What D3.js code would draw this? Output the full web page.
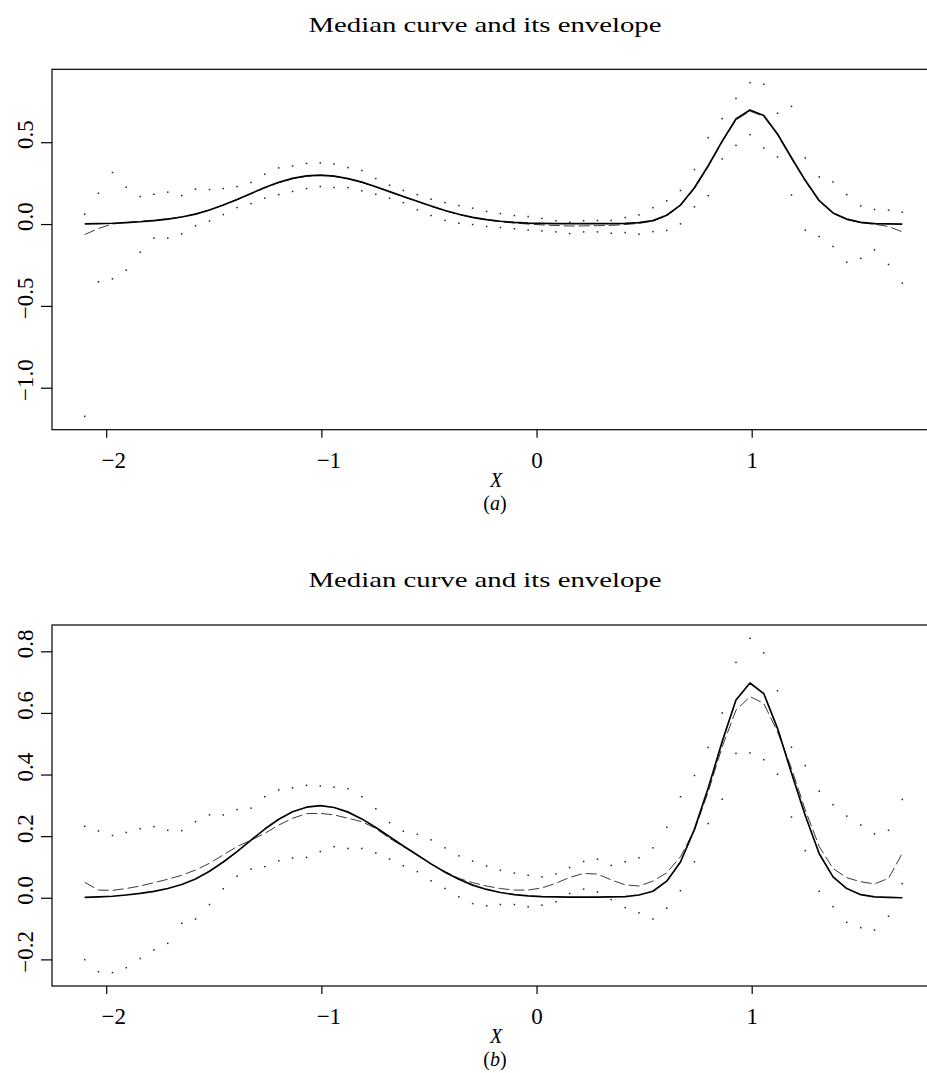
<!DOCTYPE html>
<html>
<head>
<meta charset="utf-8">
<script src="https://cdn.jsdelivr.net/npm/d3@7"></script>
<style>
  html, body { margin: 0; padding: 0; background: #fff; }
  svg { display: block; }
  text { font-family: "Liberation Serif", "Times New Roman", serif; fill: #000; }
</style>
</head>
<body>
<svg id="chart" width="927" height="1073"></svg>
<script>
// ── Data ──────────────────────────────────────────────────────────────────────

const xs = [
  -2.100, -2.036, -1.971, -1.907, -1.842, -1.778, -1.714, -1.649, -1.585, -1.520,
  -1.456, -1.392, -1.327, -1.263, -1.198, -1.134, -1.069, -1.005, -0.941, -0.876,
  -0.812, -0.747, -0.683, -0.619, -0.554, -0.490, -0.425, -0.361, -0.297, -0.232,
  -0.168, -0.103, -0.039,  0.025,  0.090,  0.154,  0.219,  0.283,  0.347,  0.412,
   0.476,  0.541,  0.605,  0.669,  0.734,  0.798,  0.863,  0.927,  0.992,  1.056,
   1.120,  1.185,  1.249,  1.314,  1.378,  1.442,  1.507,  1.571,  1.636,  1.700
];

// solid curve (same in both panels)
const trueCurve = [
  0.001, 0.003, 0.005, 0.009, 0.014, 0.021, 0.030, 0.043, 0.061, 0.086,
  0.116, 0.150, 0.187, 0.223, 0.255, 0.279, 0.294, 0.299, 0.293, 0.278,
  0.256, 0.228, 0.198, 0.168, 0.139, 0.110, 0.083, 0.060, 0.041, 0.027,
  0.017, 0.010, 0.006, 0.004, 0.003, 0.002, 0.002, 0.002, 0.003, 0.004,
  0.009, 0.021, 0.054, 0.116, 0.222, 0.356, 0.507, 0.642, 0.697, 0.663,
  0.550, 0.405, 0.267, 0.143, 0.068, 0.030, 0.010, 0.003, 0.001, 0.000
];

// panel (a)
const medianA = [
  -0.064, -0.027, 0.000, 0.010, 0.017, 0.024, 0.032, 0.044, 0.062, 0.086,
  0.115, 0.148, 0.185, 0.221, 0.253, 0.277, 0.292, 0.297, 0.292, 0.277,
  0.255, 0.227, 0.197, 0.166, 0.137, 0.108, 0.081, 0.058, 0.039, 0.025,
  0.014, 0.006, 0.000, -0.005, -0.009, -0.012, -0.011, -0.010, -0.008, -0.003,
  0.004, 0.018, 0.052, 0.113, 0.218, 0.352, 0.503, 0.637, 0.690, 0.658,
  0.546, 0.401, 0.263, 0.140, 0.066, 0.028, 0.008, -0.001, -0.015, -0.048
];
const upperA = [
  0.060, 0.188, 0.315, 0.225, 0.168, 0.182, 0.195, 0.174, 0.213, 0.211,
  0.217, 0.229, 0.254, 0.304, 0.343, 0.355, 0.370, 0.374, 0.367, 0.345,
  0.327, 0.278, 0.237, 0.205, 0.180, 0.152, 0.131, 0.113, 0.097, 0.077,
  0.064, 0.052, 0.046, 0.034, 0.020, 0.011, 0.020, 0.022, 0.022, 0.040,
  0.056, 0.100, 0.142, 0.205, 0.333, 0.528, 0.644, 0.768, 0.864, 0.854,
  0.677, 0.719, 0.404, 0.288, 0.257, 0.180, 0.111, 0.089, 0.085, 0.072
];
const lowerA = [
  -1.175, -0.353, -0.335, -0.282, -0.172, -0.086, -0.086, -0.060, -0.011, 0.018,
  0.058, 0.101, 0.125, 0.158, 0.180, 0.199, 0.217, 0.229, 0.223, 0.223,
  0.203, 0.182, 0.158, 0.131, 0.087, 0.052, 0.022, 0.005, -0.003, -0.015,
  -0.021, -0.029, -0.037, -0.042, -0.048, -0.058, -0.048, -0.048, -0.056, -0.052,
  -0.062, -0.046, -0.039, 0.001, 0.105, 0.174, 0.398, 0.481, 0.546, 0.465,
  0.410, 0.178, -0.037, -0.076, -0.137, -0.233, -0.210, -0.158, -0.247, -0.361
];

// panel (b)
const medianB = [
  0.050, 0.025, 0.024, 0.030, 0.038, 0.049, 0.060, 0.073, 0.090, 0.112,
  0.139, 0.166, 0.187, 0.209, 0.236, 0.258, 0.273, 0.274, 0.269, 0.258,
  0.247, 0.225, 0.193, 0.166, 0.139, 0.109, 0.085, 0.063, 0.049, 0.038,
  0.030, 0.025, 0.025, 0.032, 0.047, 0.066, 0.079, 0.077, 0.058, 0.042,
  0.038, 0.054, 0.081, 0.133, 0.220, 0.344, 0.490, 0.609, 0.653, 0.631,
  0.539, 0.420, 0.285, 0.166, 0.095, 0.065, 0.052, 0.045, 0.063, 0.144
];
const upperB = [
  0.232, 0.217, 0.202, 0.212, 0.224, 0.231, 0.219, 0.218, 0.247, 0.269,
  0.269, 0.286, 0.291, 0.328, 0.350, 0.357, 0.365, 0.363, 0.359, 0.354,
  0.328, 0.289, 0.244, 0.216, 0.206, 0.188, 0.162, 0.136, 0.119, 0.103,
  0.089, 0.080, 0.073, 0.068, 0.077, 0.098, 0.118, 0.125, 0.105, 0.117,
  0.130, 0.162, 0.229, 0.328, 0.397, 0.488, 0.600, 0.764, 0.842, 0.795,
  0.672, 0.489, 0.429, 0.346, 0.302, 0.265, 0.236, 0.207, 0.219, 0.319
];
const lowerB = [
  -0.201, -0.240, -0.243, -0.227, -0.197, -0.169, -0.148, -0.083, -0.069, -0.022,
  0.029, 0.070, 0.093, 0.101, 0.120, 0.129, 0.131, 0.150, 0.166, 0.160,
  0.160, 0.145, 0.126, 0.104, 0.085, 0.055, 0.030, 0.003, -0.019, -0.026,
  -0.022, -0.022, -0.029, -0.024, -0.013, 0.014, 0.028, 0.019, -0.006, -0.032,
  -0.049, -0.069, -0.034, 0.023, 0.117, 0.241, 0.320, 0.469, 0.470, 0.448,
  0.401, 0.262, 0.153, 0.021, -0.029, -0.080, -0.097, -0.105, -0.060, 0.046
];

const xTicks  = [-2, -1, 0, 1];
const yTicksA = [-1.0, -0.5, 0.0, 0.5];
const yTicksB = [-0.2, 0.0, 0.2, 0.4, 0.6, 0.8];

const title = 'Median curve and its envelope';

// ── Layout ────────────────────────────────────────────────────────────────────

const LEFT = 52, RIGHT = 935;
const FS = 23;   // tick label font size
const LS = 20;   // x label / panel letter font size

const panels = [
  { top: 69.3, bottom: 429.7, median: medianA, upper: upperA, lower: lowerA, yTicks: yTicksA, letter: 'a' },
  { top: 625,  bottom: 986,   median: medianB, upper: upperB, lower: lowerB, yTicks: yTicksB, letter: 'b' }
];

// R-style 4% range extension
function pad([a, b]) {
  const d = b - a;
  return [a - 0.04 * d, b + 0.04 * d];
}

const svg = d3.select('#chart');
const x = d3.scaleLinear().domain(pad(d3.extent(xs))).range([LEFT, RIGHT]);

function drawPanel(p) {
  const all = [...trueCurve, ...p.median, ...p.upper, ...p.lower];
  const y = d3.scaleLinear().domain(pad(d3.extent(all))).range([p.bottom, p.top]);
  const g = svg.append('g');

  const line = series => d3.line()
    .x((d, i) => x(xs[i]))
    .y(d => y(d))(series);

  // median (dashed)
  g.append('path')
    .attr('d', line(p.median))
    .attr('fill', 'none')
    .attr('stroke', '#3a3a3a')
    .attr('stroke-width', 1)
    .attr('stroke-dasharray', '11,4');

  // true curve (solid)
  g.append('path')
    .attr('d', line(trueCurve))
    .attr('fill', 'none')
    .attr('stroke', '#000')
    .attr('stroke-width', 1.7)
    .attr('stroke-linejoin', 'round');

  // envelope as single dots
  [p.upper, p.lower].forEach(s => {
    g.append('g').selectAll('rect')
      .data(s)
      .enter().append('rect')
        .attr('x', (d, i) => x(xs[i]) - 0.75)
        .attr('y', d => y(d) - 0.75)
        .attr('width', 1.5)
        .attr('height', 1.5)
        .attr('fill', '#222');
  });

  // box
  g.append('rect')
    .attr('x', LEFT).attr('y', p.top)
    .attr('width', RIGHT - LEFT).attr('height', p.bottom - p.top)
    .attr('fill', 'none')
    .attr('stroke', '#000')
    .attr('stroke-width', 1.2);

  // x axis
  const xAxis = g.append('g')
    .attr('transform', `translate(0,${p.bottom})`)
    .call(d3.axisBottom(x).tickValues(xTicks).tickSize(8).tickFormat(d3.format('d')));
  xAxis.select('.domain').remove();
  xAxis.selectAll('line').attr('stroke', '#000').attr('stroke-width', 1.2);
  xAxis.selectAll('text')
    .attr('y', 38).attr('dy', 0)
    .attr('dx', d => d < 0 ? 7 : 0)
    .attr('font-size', FS)
    .style('font-family', '"Liberation Serif", serif');

  // y axis
  const yAxis = g.append('g')
    .attr('transform', `translate(${LEFT},0)`)
    .call(d3.axisLeft(y).tickValues(p.yTicks).tickSize(11).tickFormat(d3.format('.1f')));
  yAxis.select('.domain').remove();
  yAxis.selectAll('line').attr('stroke', '#000').attr('stroke-width', 1.2);
  yAxis.selectAll('text')
    .attr('x', 0).attr('y', 0).attr('dy', 0)
    .attr('text-anchor', 'middle')
    .attr('transform', 'translate(-19,-8) rotate(-90)')
    .attr('font-size', FS)
    .style('font-family', '"Liberation Serif", serif');

  // title
  svg.append('text')
    .attr('x', 485).attr('y', p.top - 37.6)
    .attr('text-anchor', 'middle')
    .attr('font-size', 22)
    .attr('textLength', 353)
    .attr('lengthAdjust', 'spacingAndGlyphs')
    .text(title);

  // x label
  svg.append('text')
    .attr('x', 496).attr('y', p.bottom + 57)
    .attr('text-anchor', 'middle')
    .attr('font-size', LS)
    .attr('font-style', 'italic')
    .text('X');

  const sub = svg.append('text')
    .attr('x', 495).attr('y', p.bottom + 80)
    .attr('text-anchor', 'middle')
    .attr('font-size', LS);
  sub.append('tspan').text('(');
  sub.append('tspan').attr('font-style', 'italic').text(p.letter);
  sub.append('tspan').text(')');
}

panels.forEach(drawPanel);
</script>
</body>
</html>
